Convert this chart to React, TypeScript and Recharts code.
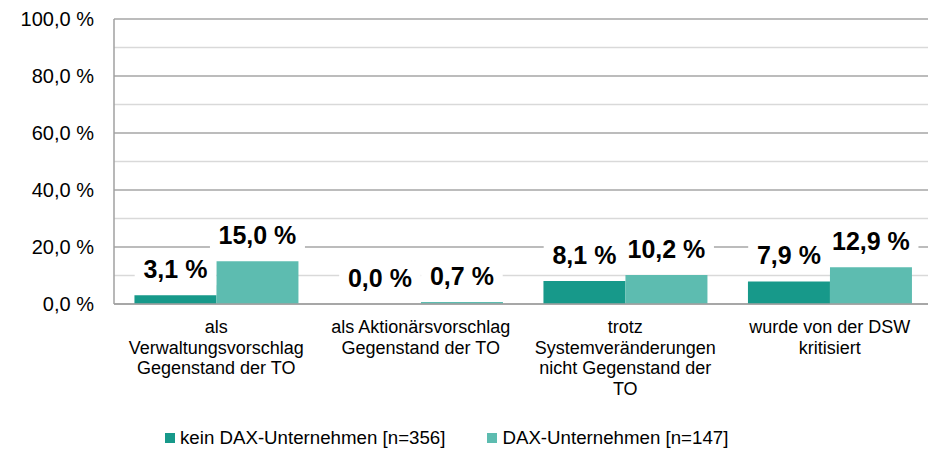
import { Bar, BarChart, CartesianGrid, LabelList, XAxis, YAxis } from "recharts";

const CATEGORIES = [
  "als\nVerwaltungsvorschlag\nGegenstand der TO",
  "als Aktionärsvorschlag\nGegenstand der TO",
  "trotz\nSystemveränderungen\nnicht Gegenstand der\nTO",
  "wurde von der DSW\nkritisiert"
];
const KEIN_DAX = [3.1, 0.0, 8.1, 7.9];
const DAX = [15.0, 0.7, 10.2, 12.9];
const SERIES_NAMES = ["kein DAX-Unternehmen [n=356]", "DAX-Unternehmen [n=147]"];
const MAJOR_TICKS = [0, 20, 40, 60, 80, 100];
const MINOR_TICKS = [10, 30, 50, 70, 90];

const COLORS = ["#17998a", "#5dbcb0"];
const FONT = "'Liberation Sans', Arial, sans-serif";

const fmt = (v: number) => v.toFixed(1).replace(".", ",") + " %";

const data = CATEGORIES.map((name, i) => ({ name, kein: KEIN_DAX[i], dax: DAX[i] }));

function CategoryTick({ x, y, payload }: any) {
  const lines = String(payload.value).split("\n");
  return (
    <text x={x} y={y} textAnchor="middle" fontSize={18} fontFamily={FONT} fill="#000">
      {lines.map((l, i) => (
        <tspan key={i} x={x} dy={i === 0 ? 29 : 20.5}>
          {l}
        </tspan>
      ))}
    </text>
  );
}

function ValueLabel({ x, y, width, value }: any) {
  const cx = x + width / 2;
  const base = y - 17;
  const text = fmt(Number(value));
  const w = text.length * 13.5 + 14;
  return (
    <g>
      <rect x={cx - w / 2} y={base - 23} width={w} height={30} fill="#fff" />
      <text x={cx} y={base} textAnchor="middle" fontSize={25} fontWeight="bold" fontFamily={FONT} fill="#000">
        {text}
      </text>
    </g>
  );
}

export default function App() {
  return (
    <div style={{ position: "absolute", left: 0, top: 0, width: 928, height: 449, background: "#fff", fontFamily: FONT, overflow: "hidden" }}>
      <BarChart width={932} height={449} data={data} margin={{ top: 19, right: 0, left: 0, bottom: 45 }} barCategoryGap="10%" barGap={0}>
        <CartesianGrid vertical={false} horizontalValues={MINOR_TICKS} stroke="#d9d9d9" strokeWidth={1.5} />
        <CartesianGrid vertical={false} stroke="#a6a6a6" strokeWidth={1.5} />
        <XAxis
          dataKey="name"
          height={100}
          interval={0}
          tickLine={false}
          tickSize={0}
          tickMargin={0}
          stroke="#a0a0a0"
          strokeWidth={1.5}
          tick={<CategoryTick />}
        />
        <YAxis
          width={114}
          domain={[0, 100]}
          ticks={MAJOR_TICKS}
          tickFormatter={fmt}
          tickLine={false}
          tickSize={0}
          tickMargin={20}
          stroke="#a0a0a0"
          strokeWidth={1.5}
          tick={{ fontSize: 20, fill: "#000", fontFamily: FONT }}
        />
        <Bar dataKey="kein" name={SERIES_NAMES[0]} fill={COLORS[0]} minPointSize={0.01} isAnimationActive={false}>
          <LabelList dataKey="kein" content={<ValueLabel />} />
        </Bar>
        <Bar dataKey="dax" name={SERIES_NAMES[1]} fill={COLORS[1]} isAnimationActive={false}>
          <LabelList dataKey="dax" content={<ValueLabel />} />
        </Bar>
      </BarChart>
      <div style={{ position: "absolute", top: 427, left: 165, display: "flex", fontSize: 18.7, color: "#000", lineHeight: "22px" }}>
        {SERIES_NAMES.map((n, i) => (
          <div key={n} style={{ display: "flex", alignItems: "center", marginRight: i === 0 ? 42 : 0 }}>
            <span style={{ width: 10, height: 10, background: COLORS[i], marginRight: 5, display: "inline-block" }} />
            <span>{n}</span>
          </div>
        ))}
      </div>
    </div>
  );
}
